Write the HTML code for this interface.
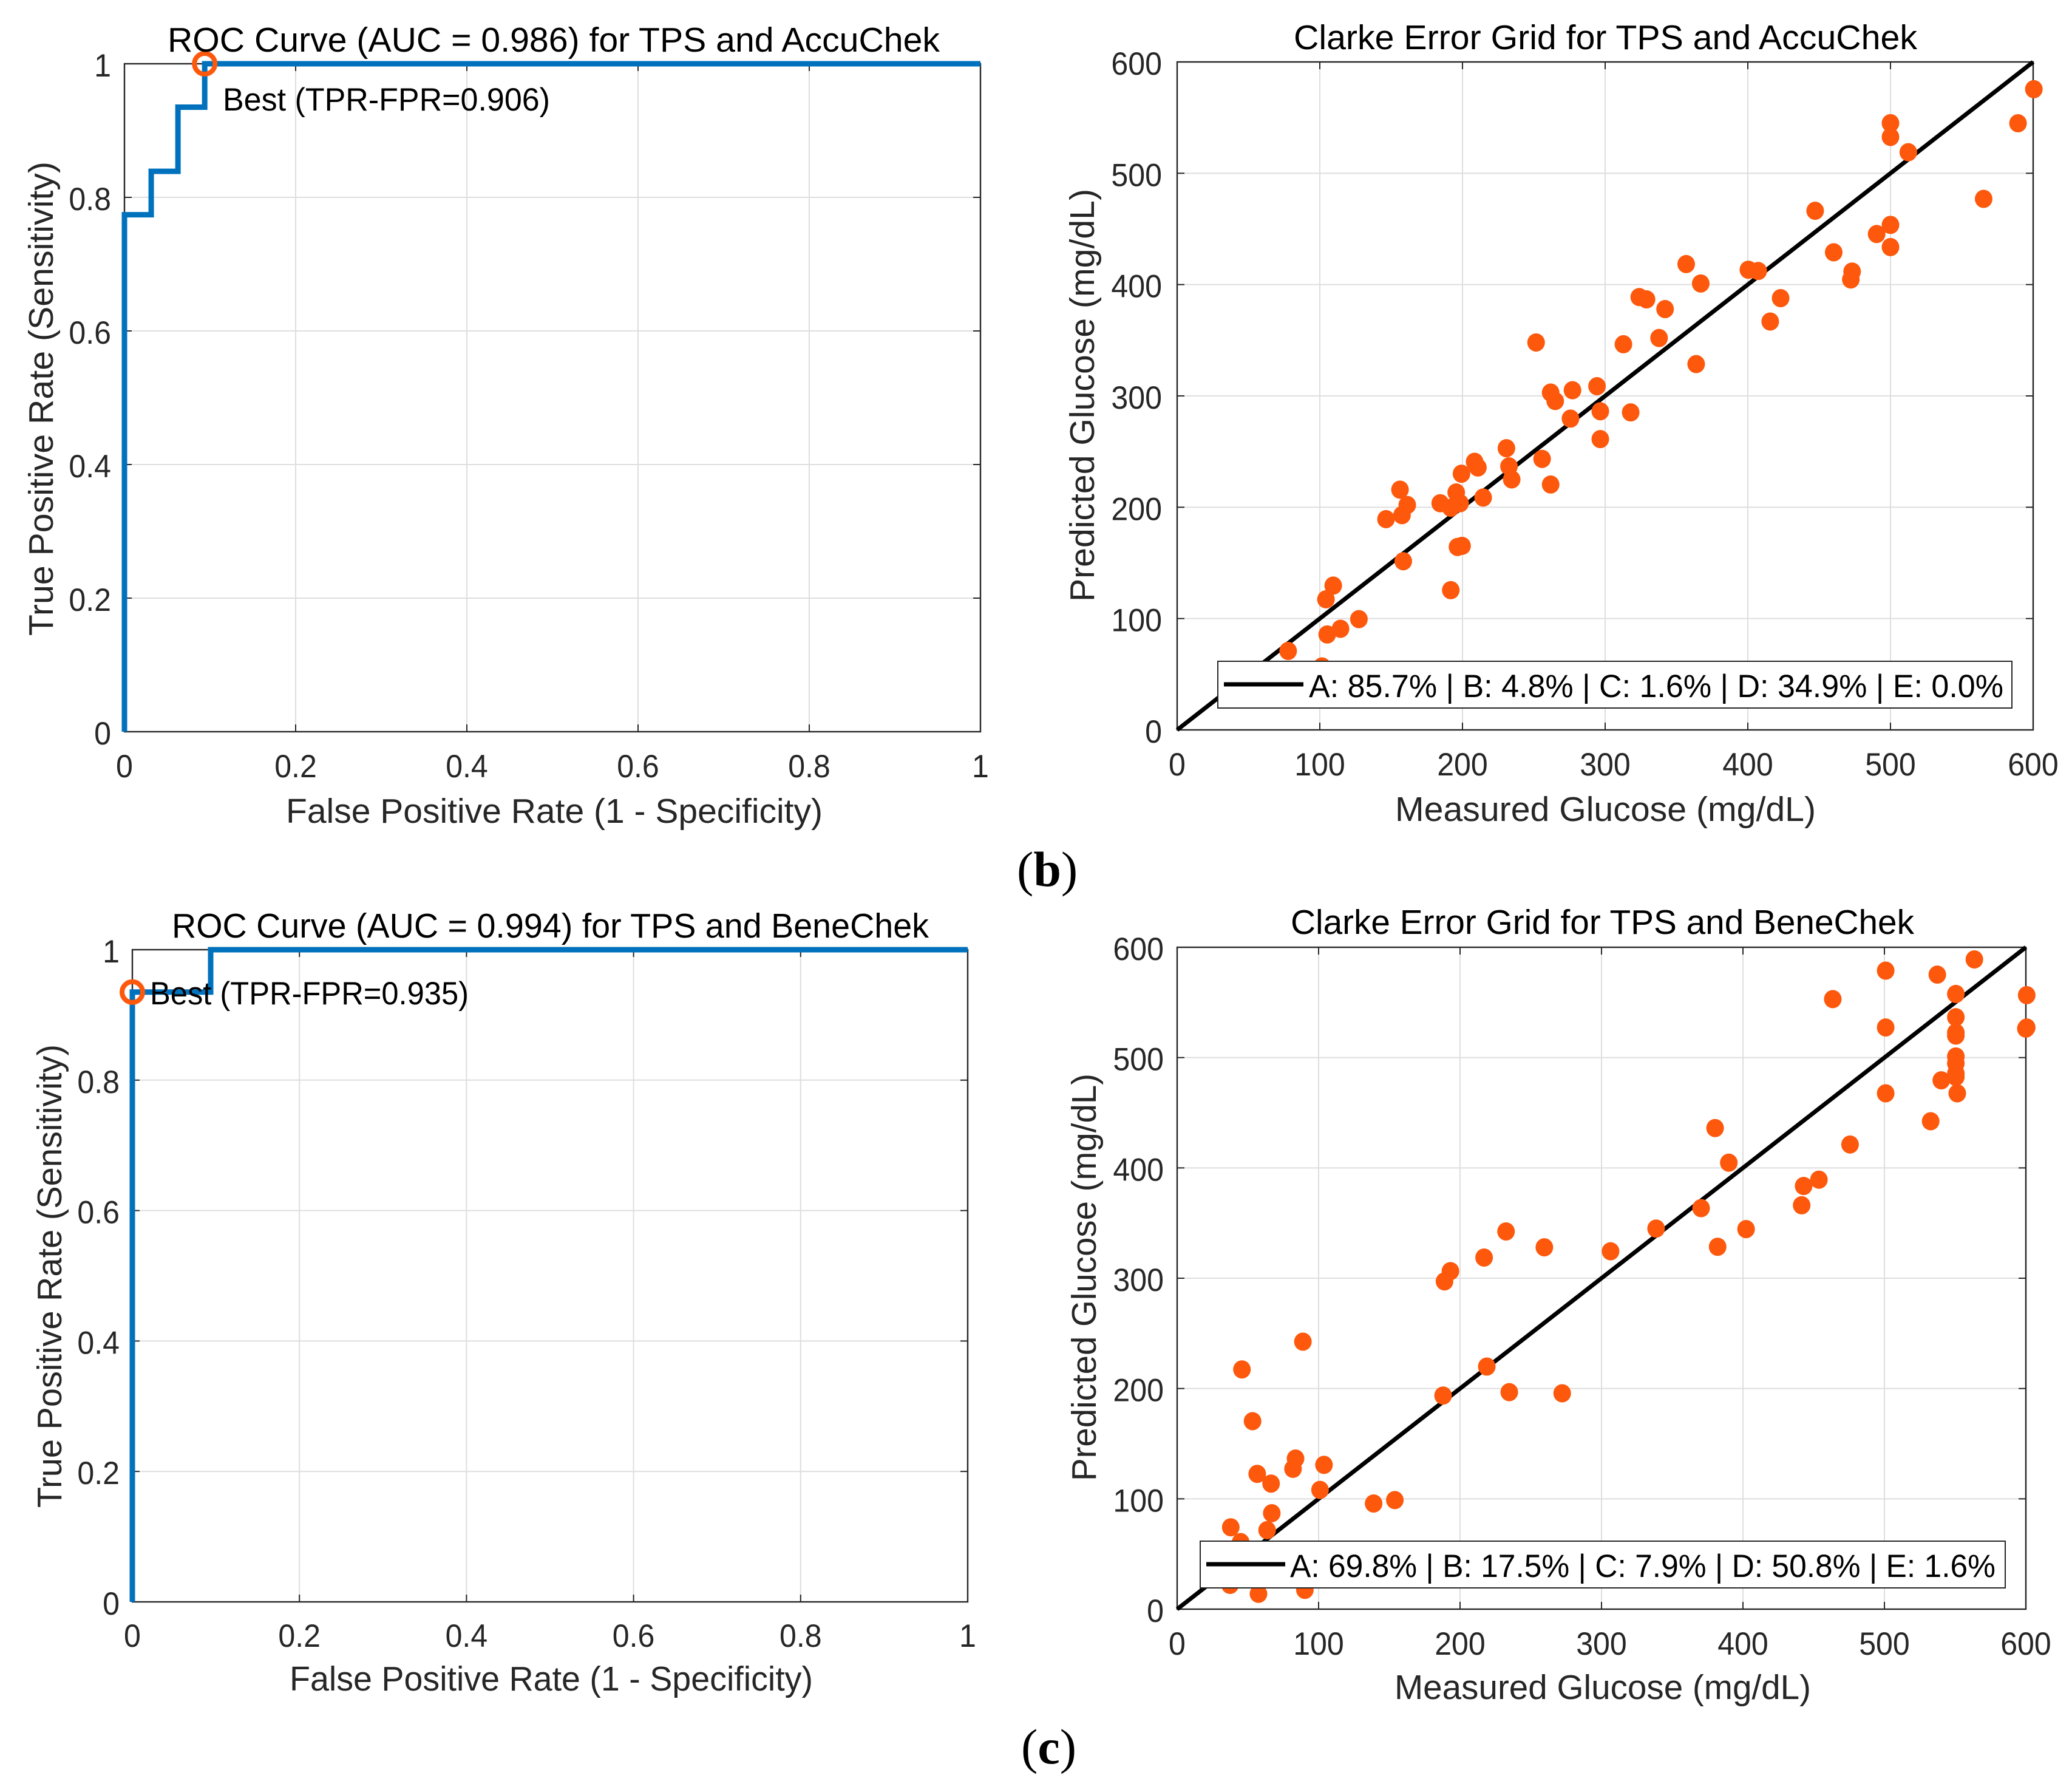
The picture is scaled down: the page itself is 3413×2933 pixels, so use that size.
<!DOCTYPE html>
<html lang="en">
<head>
<meta charset="utf-8">
<title>ROC Curves and Clarke Error Grids for TPS</title>
<style>
html,body{margin:0;padding:0;background:#fff;width:3413px;height:2933px;overflow:hidden}
svg{display:block}
text{font-family:"Liberation Sans",Arial,sans-serif}
.title{font-size:57px;fill:#000}
.axis-label{font-size:57px;fill:#262626}
.tick{font-size:53px;fill:#262626}
.note{font-size:53px;fill:#000}
.legend-text{font-size:53px;fill:#000}
.panel-tag{font-family:"Liberation Serif",serif;font-size:82px;fill:#000}
</style>
</head>
<body>
<svg id="figure" xmlns="http://www.w3.org/2000/svg" width="3413" height="2933" viewBox="0 0 3413 2933">
  <rect width="3413" height="2933" fill="#fff"/>

  <!-- ROC AccuChek -->
  <g id="panel-a">
    <g id="a-marks"></g>
    <text class="title" x="276" y="85" textLength="1272" lengthAdjust="spacingAndGlyphs">ROC Curve (AUC = 0.986) for TPS and AccuChek</text>
    <text class="axis-label" x="471" y="1355" textLength="884" lengthAdjust="spacingAndGlyphs">False Positive Rate (1 - Specificity)</text>
    <text class="axis-label" transform="translate(87,1047) rotate(-90)" textLength="781" lengthAdjust="spacingAndGlyphs">True Positive Rate (Sensitivity)</text>
    <text class="note" x="367" y="182" textLength="539" lengthAdjust="spacingAndGlyphs">Best (TPR-FPR=0.906)</text>
  </g>

  <!-- Clarke AccuChek -->
  <g id="panel-b">
    <g id="b-marks"></g>
    <text class="title" x="2131" y="81" textLength="1027" lengthAdjust="spacingAndGlyphs">Clarke Error Grid for TPS and AccuChek</text>
    <text class="axis-label" x="2298" y="1352" textLength="693" lengthAdjust="spacingAndGlyphs">Measured Glucose (mg/dL)</text>
    <text class="axis-label" transform="translate(1802,991) rotate(-90)" textLength="680" lengthAdjust="spacingAndGlyphs">Predicted Glucose (mg/dL)</text>
    <g>
      <rect x="2006" y="1089" width="1308" height="77" fill="#fff" stroke="#262626" stroke-width="2"/>
      <line x1="2016" y1="1127" x2="2147" y2="1127" stroke="#000" stroke-width="7"/>
      <text class="legend-text" x="2156" y="1148" textLength="1144" lengthAdjust="spacingAndGlyphs">A: 85.7% | B: 4.8% | C: 1.6% | D: 34.9% | E: 0.0%</text>
    </g>
  </g>
  <text class="panel-tag" x="1675" y="1459">(<tspan font-weight="bold">b</tspan>)</text>

  <!-- ROC BeneChek -->
  <g id="panel-c">
    <g id="c-marks"></g>
    <text class="title" x="283" y="1544" textLength="1247" lengthAdjust="spacingAndGlyphs">ROC Curve (AUC = 0.994) for TPS and BeneChek</text>
    <text class="axis-label" x="477" y="2784" textLength="862" lengthAdjust="spacingAndGlyphs">False Positive Rate (1 - Specificity)</text>
    <text class="axis-label" transform="translate(101,2483) rotate(-90)" textLength="763" lengthAdjust="spacingAndGlyphs">True Positive Rate (Sensitivity)</text>
    <text class="note" x="247" y="1654" textLength="525" lengthAdjust="spacingAndGlyphs">Best (TPR-FPR=0.935)</text>
  </g>

  <!-- Clarke BeneChek -->
  <g id="panel-d">
    <g id="d-marks"></g>
    <text class="title" x="2126" y="1538" textLength="1027" lengthAdjust="spacingAndGlyphs">Clarke Error Grid for TPS and BeneChek</text>
    <text class="axis-label" x="2297" y="2798" textLength="686" lengthAdjust="spacingAndGlyphs">Measured Glucose (mg/dL)</text>
    <text class="axis-label" transform="translate(1805,2439) rotate(-90)" textLength="671" lengthAdjust="spacingAndGlyphs">Predicted Glucose (mg/dL)</text>
    <g>
      <rect x="1977" y="2538" width="1326" height="77" fill="#fff" stroke="#262626" stroke-width="2"/>
      <line x1="1987" y1="2576" x2="2117" y2="2576" stroke="#000" stroke-width="7"/>
      <text class="legend-text" x="2125" y="2597" textLength="1162" lengthAdjust="spacingAndGlyphs">A: 69.8% | B: 17.5% | C: 7.9% | D: 50.8% | E: 1.6%</text>
    </g>
  </g>
  <text class="panel-tag" x="1682" y="2904">(<tspan font-weight="bold">c</tspan>)</text>
</svg>

<script>
// ---- chart data ----
const rocTicks = [0, 0.2, 0.4, 0.6, 0.8, 1];
const rocTickLabels = ["0", "0.2", "0.4", "0.6", "0.8", "1"];
const glucoseTicks = [0, 100, 200, 300, 400, 500, 600];
const glucoseTickLabels = ["0", "100", "200", "300", "400", "500", "600"];

const rocAccuFpr = [0, 0, 0.03125, 0.03125, 0.0625, 0.0625, 0.09375, 0.09375, 1];
const rocAccuTpr = [0, 0.774, 0.774, 0.839, 0.839, 0.935, 0.935, 1, 1];
const rocAccuBest = [0.09375, 1];

const rocBeneFpr = [0, 0, 0.09375, 0.09375, 1];
const rocBeneTpr = [0, 0.935, 0.935, 1, 1];
const rocBeneBest = [0, 0.935];

const identityLine = [0, 600];

const accuMeasured = [600.5,589.4,500,500,512.5,565.3,447.2,500,490.3,500,460.2,473.1,472.2,400.4,407.3,356.8,367,323.9,329,342,423,415.7,337.8,312.8,251.6,363.8,261.8,277.1,294.3,265,296.6,317.9,275.7,296.6,230.8,232.6,255.8,234.5,261.8,208.5,210.8,199.3,214.5,195.6,156.2,161.3,184.4,191.8,198.3,157.6,146.4,158.5,196.5,199.7,191.8,109.4,104.3,127.4,114.5,105.2,77.8,101.5];
const accuPredicted = [575.5,544.9,545,532.6,518.9,477,466.3,453.6,445.4,433.7,429,411.7,404.6,413.3,412.2,418.4,401,388.8,386.7,378,387.8,366.8,352,346.4,348,328.6,303,305.1,308.7,295.4,286.2,285.2,279.6,261.2,253,236.7,243.4,225,220.4,240.8,235.7,230.1,208.7,213.3,215.8,202,203.6,199.5,203.6,192.9,189.3,151.5,164.3,165.3,125.5,129.6,117.3,99.5,90.8,85.7,70.9,57];

const beneMeasured = [563.6,500.9,537.4,463.5,550.5,600.6,550.5,600.6,600,500.9,550.5,550.5,550.5,550.5,550.5,550.5,540.2,551.5,500.9,532.7,475.7,380.3,390,453.7,442.9,441.5,370.4,402.2,382.1,338.6,306.4,259.6,232.5,217,193.2,189,88.9,45.8,218.9,188,234.8,272.2,53.3,83.7,81.9,103.8,56.6,66.4,101,138.9,153.9,66.9,37.9,63.6,44.9,37.4,57.5,90.3];
const benePredicted = [589,578.8,575.2,553,557.7,556.6,536.6,527.3,526.3,527.3,522.7,520,501,494.8,485.6,482.5,479.4,467.6,467.6,442.3,421.2,436.1,404.7,389.3,383.6,366.1,363.5,344.5,328.5,345,324.4,328,342.4,318.7,306.4,297.1,242.5,217.3,219.9,193.6,196.7,195.7,170.4,136.5,127.2,130.8,122.6,113.8,108.1,95.8,98.9,87,74.2,71.6,60.8,22,13.9,17.5];

// ---- drawing ----
const SVG_NS = "http://www.w3.org/2000/svg";
const AXIS_COLOR = "#262626";
const GRID_COLOR = "#dedede";
const ORANGE = "#fd580c";
const BLUE = "#0072bd";

function mk(parent, tag, attrs) {
  const el = document.createElementNS(SVG_NS, tag);
  for (const k in attrs) el.setAttribute(k, attrs[k]);
  parent.appendChild(el);
  return el;
}

// Condense a tick label so it keeps the taller, narrower look of the reference glyphs.
function condense(el) {
  el.setAttribute("textLength", (el.getComputedTextLength() * 0.945).toFixed(1));
  el.setAttribute("lengthAdjust", "spacingAndGlyphs");
}

function drawAxes(root, box, ticks, labels, domainMax, geom) {
  const sx = v => box.left + (v / domainMax) * (box.right - box.left);
  const sy = v => box.bottom - (v / domainMax) * (box.bottom - box.top);
  const tickLen = 12;

  ticks.forEach((t, i) => {
    const gv = mk(root, "line", {x1: sx(t), x2: sx(t), y1: box.top, y2: box.bottom, stroke: GRID_COLOR, "stroke-width": 2});
    
    
    const gh = mk(root, "line", {x1: box.left, x2: box.right, y1: sy(t), y2: sy(t), stroke: GRID_COLOR, "stroke-width": 2});
    
    
  });

  const frame = mk(root, "rect", {x: box.left, y: box.top, width: box.right - box.left, height: box.bottom - box.top, fill: "none", stroke: AXIS_COLOR, "stroke-width": 2.4});
  
  

  ticks.forEach((t, i) => {
    const segs = [
      [sx(t), box.bottom, sx(t), box.bottom - tickLen],
      [sx(t), box.top, sx(t), box.top + tickLen],
      [box.left, sy(t), box.left + tickLen, sy(t)],
      [box.right, sy(t), box.right - tickLen, sy(t)]
    ];
    segs.forEach(s => {
      const tm = mk(root, "line", {x1: s[0], y1: s[1], x2: s[2], y2: s[3], stroke: AXIS_COLOR, "stroke-width": 2});
      
      
    });

    const xl = mk(root, "text", {class: "tick", x: sx(t), y: geom.xTickBase, "text-anchor": "middle"});
    
    
    xl.textContent = labels[i];
    condense(xl);

    const yl = mk(root, "text", {class: "tick", x: geom.yTickRight, y: sy(t) + 21, "text-anchor": "end"});
    
    
    yl.textContent = labels[i];
    condense(yl);
  });
  return {sx, sy};
}

function drawRoc(rootId, box, geom, fpr, tpr, best) {
  const root = document.getElementById(rootId);
  const {sx, sy} = drawAxes(root, box, rocTicks, rocTickLabels, 1, geom);
  const pts = fpr.map((f, i) => sx(f) + "," + sy(tpr[i])).join(" ");
  const curve = mk(root, "polyline", {points: pts, fill: "none", stroke: BLUE, "stroke-width": 9, "stroke-linejoin": "miter"});
  
  
  const marker = mk(root, "circle", {cx: sx(best[0]), cy: sy(best[1]), r: 17, fill: "none", stroke: ORANGE, "stroke-width": 8});
  
  
}

function drawClarke(rootId, box, geom, measured, predicted) {
  const root = document.getElementById(rootId);
  const {sx, sy} = drawAxes(root, box, glucoseTicks, glucoseTickLabels, 600, geom);
  const diag = mk(root, "line", {x1: sx(identityLine[0]), y1: sy(identityLine[0]), x2: sx(identityLine[1]), y2: sy(identityLine[1]), stroke: "#000", "stroke-width": 7});
  
  
  measured.forEach((m, i) => {
    const dot = mk(root, "ellipse", {cx: sx(m), cy: sy(predicted[i]), rx: 14.5, ry: 15, fill: ORANGE});
    
    
  });
}

drawRoc("a-marks", {left: 205, right: 1615, top: 105, bottom: 1205}, {xTickBase: 1280, yTickRight: 183}, rocAccuFpr, rocAccuTpr, rocAccuBest);
drawClarke("b-marks", {left: 1939, right: 3349, top: 102, bottom: 1202}, {xTickBase: 1277, yTickRight: 1914}, accuMeasured, accuPredicted);
drawRoc("c-marks", {left: 218, right: 1594, top: 1564, bottom: 2638}, {xTickBase: 2712, yTickRight: 197}, rocBeneFpr, rocBeneTpr, rocBeneBest);
drawClarke("d-marks", {left: 1939, right: 3337, top: 1560, bottom: 2650}, {xTickBase: 2725, yTickRight: 1917}, beneMeasured, benePredicted);
</script>
</body>
</html>
